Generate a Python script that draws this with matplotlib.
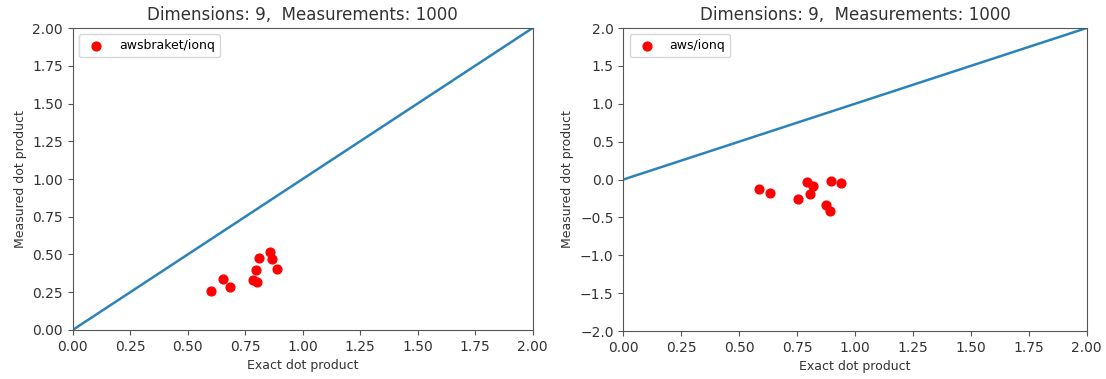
import numpy as np
import matplotlib
matplotlib.use("Agg")
import matplotlib.pyplot as plt

# =====================================================
# DATA
# =====================================================

title = "Dimensions: 9,  Measurements: 1000"

braket_exact = [0.60, 0.652, 0.684, 0.785, 0.80, 0.797, 0.81, 0.857, 0.865, 0.887]
braket_measured = [0.258, 0.34, 0.282, 0.329, 0.318, 0.395, 0.478, 0.515, 0.467, 0.405]

aws_exact = [0.584, 0.632, 0.753, 0.794, 0.82, 0.805, 0.895, 0.938, 0.873, 0.892]
aws_measured = [-0.128, -0.181, -0.256, -0.03, -0.088, -0.19, -0.018, -0.04, -0.335, -0.42]

ideal = [0.0, 2.0]


# =====================================================
# PLOT
# =====================================================

fig = plt.figure(figsize=(11.06, 3.79), dpi=100)

ax1 = fig.add_axes([0.0657, 0.1293, 0.4159, 0.7968])
ax2 = fig.add_axes([0.5636, 0.1266, 0.4189, 0.7995])

panels = [
    (ax1, braket_exact, braket_measured, "awsbraket/ionq", (0, 2)),
    (ax2, aws_exact, aws_measured, "aws/ionq", (-2, 2)),
]

for ax, x, y, label, ylim in panels:

    ax.plot(ideal, ideal, color="#2b83ba", linewidth=1.8)

    ax.scatter(x, y, color="red", s=40, label=label, zorder=3)

    ax.set_xlim(0, 2)

    ax.set_ylim(*ylim)

    ax.set_xticks(np.arange(0, 2.01, 0.25))

    ax.set_title(title, fontsize=12, color="#333333")

    ax.set_xlabel("Exact dot product", fontsize=9, color="#333333")

    ax.set_ylabel("Measured dot product", fontsize=9, color="#333333")

    ax.tick_params(labelsize=10, colors="#555555", labelcolor="#333333")

    for spine in ax.spines.values():
        spine.set_color("#555555")

    ax.legend(loc="upper left", fontsize=9)

ax1.set_yticks(np.arange(0, 2.01, 0.25))
ax2.set_yticks(np.arange(-2, 2.01, 0.5))

fig.savefig("out.png", dpi=100)
